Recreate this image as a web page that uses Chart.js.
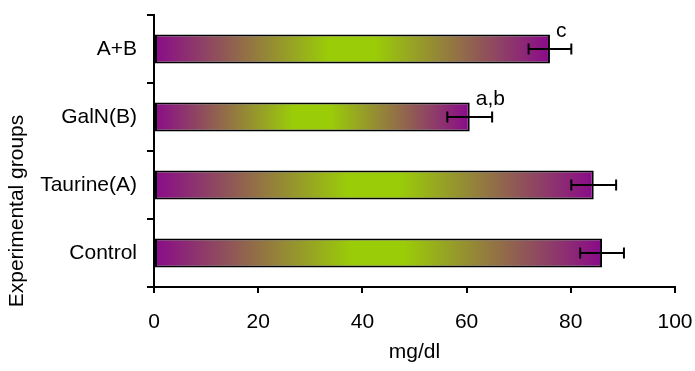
<!DOCTYPE html>
<html>
<head>
<meta charset="utf-8">
<script src="https://cdn.jsdelivr.net/npm/chart.js@4/dist/chart.umd.min.js"></script>
<style>
  html,body{margin:0;padding:0;background:#fff}
  #wrap{width:695px;height:371px}
</style>
</head>
<body>
<div id="wrap"><canvas id="chart" width="695" height="371"></canvas></div>
<script>
// groups top -> bottom, as drawn
const groups = ["A+B", "GalN(B)", "Taurine(A)", "Control"];
const means = [76, 60.6, 84.4, 86];
const errors = [4.1, 4.3, 4.3, 4.2];
const sigLabels = ["c", "a,b", "", ""];
const xTicks = [0, 20, 40, 60, 80, 100];
const xTitle = "mg/dl";
const yTitle = "Experimental groups";

const PURPLE = "#8a0a8a";
const GREEN = "#9acc08";
const FONT = "'Liberation Sans', Arial, sans-serif";

function barFill(ctx){
  const chart = ctx.chart;
  if(!chart.chartArea) return PURPLE;
  const x = chart.scales.x;
  const x0 = x.getPixelForValue(0);
  const x1 = x.getPixelForValue(ctx.raw);
  const g = chart.ctx.createLinearGradient(x0, 0, x1, 0);
  g.addColorStop(0, PURPLE);
  g.addColorStop(0.44, GREEN);
  g.addColorStop(0.56, GREEN);
  g.addColorStop(1, PURPLE);
  return g;
}

// error bars, letters and axis titles
const extras = {
  id: "extras",
  afterDatasetsDraw(chart){
    const c = chart.ctx;
    const xs = chart.scales.x, ys = chart.scales.y;
    const meta = chart.getDatasetMeta(0);
    c.save();
    c.strokeStyle = "#000";
    c.lineWidth = 2;
    means.forEach((m, i) => {
      const y = ys.getPixelForValue(i);
      const lo = xs.getPixelForValue(m - errors[i]);
      const hi = xs.getPixelForValue(m + errors[i]);
      c.beginPath();
      c.moveTo(lo, y); c.lineTo(hi, y);
      c.moveTo(lo, y - 5.5); c.lineTo(lo, y + 5.5);
      c.moveTo(hi, y - 5.5); c.lineTo(hi, y + 5.5);
      c.stroke();
      if(sigLabels[i]){
        const bar = meta.data[i];
        c.fillStyle = "#000";
        c.font = "21px " + FONT;
        c.textAlign = "left";
        c.textBaseline = "alphabetic";
        c.fillText(sigLabels[i], bar.x + 6, bar.y - bar.height / 2 + 3);
      }
    });
    const a = chart.chartArea;
    c.fillStyle = "#000";
    c.font = "21px " + FONT;
    c.textAlign = "center";
    c.textBaseline = "middle";
    c.fillText(xTitle, (a.left + a.right) / 2, a.bottom + 65);
    c.translate(17, (a.top + a.bottom) / 2 + 60);
    c.rotate(-Math.PI / 2);
    c.fillText(yTitle, 0, 0);
    c.restore();
  }
};

new Chart(document.getElementById("chart"), {
  type: "bar",
  data: {
    labels: groups,
    datasets: [{
      data: means,
      backgroundColor: barFill,
      borderColor: "#000",
      borderWidth: 2,
      borderSkipped: false,
      barPercentage: 0.43,
      categoryPercentage: 1
    }]
  },
  options: {
    indexAxis: "y",
    responsive: false,
    animation: false,
    layout: { padding: { top: 15, right: 20, left: 0, bottom: 0 } },
    plugins: { legend: { display: false }, tooltip: { enabled: false } },
    scales: {
      x: {
        min: 0, max: 100,
        afterBuildTicks: s => { s.ticks = xTicks.map(v => ({ value: v })); },
        afterFit: s => { s.height = 84; s.paddingLeft = 0; s.paddingRight = 0; },
        grid: { drawOnChartArea: false, tickLength: 6, color: "#000", lineWidth: 2 },
        border: { color: "#000", width: 2 },
        ticks: { color: "#000", padding: 17, font: { family: FONT, size: 21 } }
      },
      y: {
        afterFit: s => { s.width = 154; s.paddingTop = 0; s.paddingBottom = 0; },
        grid: { drawOnChartArea: false, tickLength: 7, color: "#000", lineWidth: 2, offset: true },
        border: { color: "#000", width: 2 },
        ticks: { color: "#000", padding: 10, font: { family: FONT, size: 21 } }
      }
    }
  },
  plugins: [extras]
});
</script>
</body>
</html>
